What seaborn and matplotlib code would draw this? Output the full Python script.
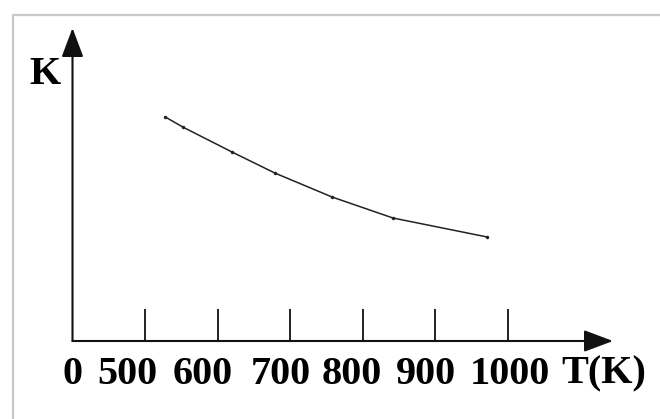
import matplotlib
matplotlib.use('Agg')
import matplotlib.pyplot as plt
import seaborn as sns
import pandas as pd
from matplotlib.lines import Line2D

# curve (K in arbitrary units above the T axis)
temps = [528, 552, 620, 679, 758, 842, 972]
k_vals = [224, 214, 189, 168, 144, 123, 104]
tick_temps = [500, 600, 700, 800, 900, 1000]
tick_labels = ['500', '600', '700', '800', '900', '1000']

sns.set_theme(style='white')
plt.rcParams['font.family'] = ['Liberation Serif', 'DejaVu Serif']

# layout: 1 unit of K == 1 px, 100 K of T == 72.5 px, origin drawn at T=400
px_per_t = 0.725
x0_px = 72.5
t_origin = 400
k_origin_px = 341

def t_at(px):
    return t_origin + (px - x0_px) / px_per_t

def k_at(py):
    return k_origin_px - py

fig = plt.figure(figsize=(6.6, 4.19), dpi=100)
ax = fig.add_axes([0, 0, 1, 1])
ax.set_xlim(t_at(0), t_at(660))
ax.set_ylim(k_at(419), k_at(0))
ax.axis('off')

# light frame (top and left edges visible)
ax.add_line(Line2D([t_at(13), t_at(660)], [k_at(15), k_at(15)], color='#c8c8c8', lw=1.6))
ax.add_line(Line2D([t_at(13), t_at(13)], [k_at(15), k_at(419)], color='#c8c8c8', lw=1.6))

# axes with arrow heads
arrow = dict(arrowstyle='-|>,head_length=1.2,head_width=0.45', mutation_scale=15,
             lw=1.5, color='#111111', shrinkA=0, shrinkB=0)
ax.annotate('', xy=(t_at(613), 0), xytext=(t_origin, 0), arrowprops=arrow)
ax.annotate('', xy=(t_origin, k_at(28)), xytext=(t_origin, 0), arrowprops=arrow)

ax.vlines(tick_temps, 0, 32, color='#111111', lw=1.3)

# curve
df = pd.DataFrame({'T': temps, 'K': k_vals})
sns.lineplot(data=df, x='T', y='K', ax=ax, color='#222222', lw=1.1,
             marker='o', markersize=2.5, markeredgewidth=0)

label_font = dict(fontsize=29, fontweight='bold', color='black', ha='center', va='center')
label_px = [127, 203, 281, 352, 426, 510]
ax.text(t_at(73), k_at(374), '0', **label_font)
for px, lab in zip(label_px, tick_labels):
    ax.text(t_at(px), k_at(374), lab, **label_font)
ax.text(t_at(604), k_at(374), 'T(K)', **label_font)
ax.text(t_at(45), k_at(74), 'K', **label_font)

fig.savefig('out.png', dpi=100)
